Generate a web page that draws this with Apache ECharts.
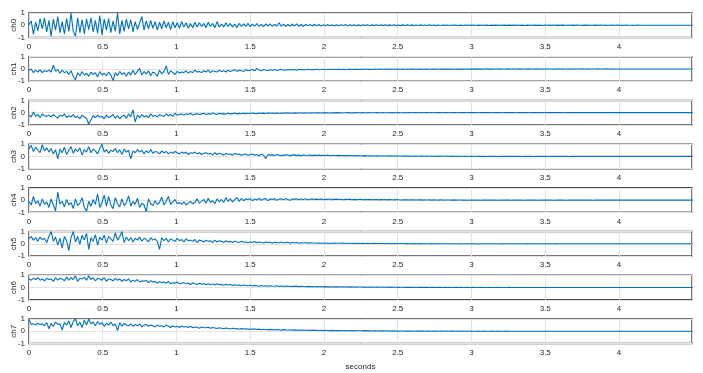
<!DOCTYPE html>
<html><head><meta charset="utf-8">
<script src="https://cdn.jsdelivr.net/npm/echarts@6/dist/echarts.min.js"></script>
<style>html,body{margin:0;padding:0;background:#fff}#c{width:703px;height:373px}</style>
</head><body><div id="c"></div>
<script>
// sample interval of the recordings (seconds) and number of samples
const dt = 0.015;
const nSamples = 301;
const channelNames = ["ch0","ch1","ch2","ch3","ch4","ch5","ch6","ch7"];
const xTicks = [0,0.5,1,1.5,2,2.5,3,3.5,4];
const yTicks = [-1,0,1];
const xLabel = "seconds";

const ch0 = [
.05,.35,-.75,.25,-.45,.55,-.3,.6,-.55,.4,
-.9,.5,-.4,.7,-.6,.3,-.7,.55,-.5,1,
-.5,-.9,.6,-.6,.45,-.7,.5,-.35,.6,-.55,
.4,-.65,.8,-.8,.5,-.4,.55,-.6,.35,-.5,
1,-.7,.4,-.5,.5,-.3,.45,-.55,.3,-.35,
.2,.7,-.4,.35,-.3,.4,-.25,.3,-.4,.25,
-.3,.35,-.2,.25,-.35,.3,-.2,.2,-.25,.3,
-.15,.2,-.25,.15,-.2,.25,-.15,.2,-.1,.15,
-.2,.25,-.1,.15,-.2,.3,-.15,.1,-.15,.2,
-.1,.15,-.15,.1,-.2,.15,-.1,.12,-.1,.15,
-.12,.1,-.08,.14,-.1,.08,-.12,.1,-.06,.12,
-.1,.08,-.06,.2,-.08,.1,-.1,.06,-.08,.1,
-.06,.12,-.08,.06,-.1,.08,-.05,.07,-.06,.08,
-.05,.06,-.07,.05,-.04,.06,-.05,.04,-.06,.05,
-.04,.05,-.03,.06,-.05,.04,-.03,.05,-.04,.03,
-.04,.05,-.03,.04,-.04,.03,-.03,.04,-.02,.03,
-.03,.04,-.03,.03,-.02,.04,-.03,.02,-.03,.03,
-.02,.03,-.02,.03,-.03,.02,-.02,.03,-.02,.02,
-.02,.03,-.02,.02,-.03,.02,-.02,.02,-.01,.02,
-.02,.02,-.01,.02,-.02,.01,-.02,.02,-.01,.02,
-.01,.02,-.02,.01,-.01,.02,-.01,.01,-.02,.01,
-.01,.01,-.01,.02,-.01,.01,-.01,.01,-.01,.01,
-.01,.02,-.01,.01,-.02,.01,-.01,.02,-.01,.01,
-.01,.01,-.02,.01,0,.01,-.01,.02,-.01,.01,
-.01,.01,-.01,0,.01,-.01,.01,-.01,.01,0,
-.01,.01,-.01,.01,0,-.01,.01,-.01,.01,0,
.01,-.01,0,.01,-.01,0,.01,0,-.01,0,
.01,0,0,-.01,0,.01,0,0,0,0,
0,0,0,0,0,0,0,0,0,0,
0,0,0,0,0,0,0,0,0,0,
0];

const ch1 = [
-.1,0,-.3,-.1,-.25,-.05,-.3,-.15,-.2,-.1,
-.25,.3,-.2,-.05,-.35,-.1,-.3,-.2,-.45,-.15,
-.6,-.9,-.3,-.55,-.2,-.5,-.35,-.6,-.25,-.45,
-.3,-.65,-.2,-.5,-.35,-.55,-.25,-.5,-.95,-.3,
-.55,-.2,-.45,-.3,-.6,-.25,-.5,-.1,-.45,-.2,
.05,-.5,-.2,-.4,-.15,-.55,-.25,-.35,-.6,-.1,
-.4,-.2,.25,-.45,-.15,-.3,-.45,-.2,-.35,-.25,
-.3,-.15,-.35,-.2,-.3,-.1,-.25,-.2,-.3,-.15,
-.25,-.1,-.3,-.15,-.2,-.25,-.1,-.2,-.15,-.25,
-.1,-.2,-.15,-.05,-.2,-.1,-.15,-.2,-.05,-.15,
-.1,-.05,-.15,.05,-.1,-.15,-.05,-.1,-.12,-.06,
-.1,-.04,-.12,-.08,-.03,-.1,-.06,-.09,-.04,-.08,
-.05,-.1,-.03,-.07,-.05,-.08,-.02,-.06,-.04,-.07,
-.03,-.06,-.05,-.02,-.06,-.04,-.03,-.05,-.02,-.04,
-.03,-.05,-.02,-.04,-.03,-.01,-.04,-.02,-.03,-.04,
-.02,-.03,-.01,-.03,-.02,-.04,-.01,-.02,-.03,-.01,
-.02,-.01,-.03,0,-.02,-.01,-.03,-.01,-.02,0,
-.02,-.01,-.02,0,-.01,-.02,0,-.01,-.02,-.01,
0,-.02,-.01,0,-.01,-.02,0,-.01,0,-.01,
-.01,0,-.02,0,-.01,0,-.01,-.01,0,-.01,
0,-.01,.01,-.01,0,-.01,0,.01,-.01,0,
-.01,0,.01,-.01,0,0,-.01,.01,0,-.01,
0,.01,-.01,0,0,-.01,.01,0,0,-.01,
.01,0,-.01,0,.01,0,0,-.01,0,.01,
0,-.01,0,0,.01,0,-.01,0,0,0,
.01,0,0,-.01,0,0,0,.01,0,0,
0,.01,0,0,-.01,0,0,0,0,0,
0,0,0,0,0,0,0,0,0,0,
0,0,0,0,0,0,0,0,0,0,
0,0,0,0,0,0,0,0,0,0,
0];

const ch2 = [
-.2,-.35,.05,-.3,-.15,-.4,-.1,-.25,-.3,-.2,
-.35,-.15,-.3,-.45,-.2,-.3,-.1,-.4,-.25,-.35,
-.15,-.4,-.3,-.5,-.2,-.35,-.45,-.95,-.6,-.25,
-.4,-.2,-.35,-.3,-.5,-.2,-.4,-.3,-.15,-.45,
-.25,-.5,-.3,-.2,-.45,-.1,-.35,.25,-.75,-.2,
-.4,-.15,-.35,-.25,-.4,-.1,-.3,-.2,-.35,-.15,
-.25,-.3,-.1,-.25,-.15,-.3,-.05,-.2,-.15,-.1,
-.2,-.1,-.15,-.05,-.2,-.12,-.08,-.15,-.1,-.05,
-.15,-.08,-.12,-.03,-.1,-.15,-.05,-.1,-.08,-.12,
-.05,-.1,-.08,-.02,-.1,-.06,-.09,-.04,-.08,-.05,
-.07,-.02,-.06,-.08,-.03,-.06,-.04,-.07,-.02,-.05,
-.04,-.06,-.02,-.05,-.03,-.06,-.01,-.04,-.03,-.05,
-.02,-.04,-.03,-.01,-.04,-.02,-.03,-.04,-.01,-.03,
-.02,-.01,-.03,0,-.02,-.01,-.03,-.01,-.02,0,
-.02,-.01,-.03,-.01,0,-.02,-.01,-.02,0,-.01,
-.02,0,-.01,-.02,0,-.01,-.01,0,-.02,-.01,
0,-.01,-.01,0,-.02,0,-.01,0,-.01,-.01,
0,-.01,0,-.01,0,.01,-.01,0,-.01,0,
.01,-.01,0,-.01,0,0,.01,-.01,0,0,
-.01,.01,0,0,-.01,0,.01,0,-.01,0,
0,.01,0,-.01,0,0,.01,0,0,-.01,
0,0,.01,0,-.01,0,0,.01,0,0,
-.01,0,0,.01,0,0,-.01,0,0,0,
.01,0,0,-.01,0,0,.01,0,0,0,
0,0,-.01,0,0,.01,0,0,0,0,
0,0,0,0,0,0,0,0,0,0,
0,0,0,0,0,0,0,0,0,0,
0,0,0,0,0,0,0,0,0,0,
0,0,0,0,0,0,0,0,0,0,
0,0,0,0,0,0,0,0,0,0,
0];

const ch3 = [
.6,.9,.4,.75,.5,.3,.95,.45,.7,.35,
.65,.2,.55,-.2,.6,.3,.75,.15,.5,.8,
.25,.6,.4,.7,.1,.55,.35,.8,.3,.6,
.45,.2,.65,1,.35,.55,.25,.5,.4,.65,
.3,.55,.15,.6,.35,.5,-.2,.45,.3,.55,
.35,.5,.2,.45,.3,.55,.25,.4,.35,.2,
.45,.3,.4,.2,.35,.25,.4,.3,.2,.35,
.25,.35,.15,.3,.25,.35,.2,.3,.15,.25,
.3,.2,.25,.1,.3,.15,.25,.2,.1,.25,
.15,.2,.1,.25,.15,.2,.1,.15,.2,.08,
.15,.2,.1,.15,.05,.18,.12,-.2,.15,.1,
.12,.08,.15,.1,.05,.12,.1,.14,.06,.1,
.12,.08,.1,.05,.12,.09,.07,.11,.06,.1,
.08,.1,.06,.09,.07,.1,.05,.08,.07,.06,
.08,.05,.07,.06,.04,.07,.05,.06,.04,.06,
.05,.04,.06,.03,.05,.04,.03,.05,.04,.03,
.04,.03,.04,.02,.04,.03,.02,.03,.03,.02,
.03,.02,.03,.01,.03,.02,.01,.02,.02,.01,
.02,.01,.02,.01,.02,0,.02,.01,.01,.02,
.01,0,.02,.01,0,.01,.01,0,.01,.01,
0,.01,.01,0,.01,0,.01,-.01,.01,0,
.01,0,-.01,.01,0,.01,0,0,.01,0,
0,.01,0,-.01,0,.01,0,0,-.01,.01,
0,0,.01,0,0,-.01,0,.01,0,0,
.01,0,0,0,-.01,0,0,.01,0,0,
0,0,.01,0,0,0,0,0,0,0,
0,0,0,0,0,0,0,0,0,0,
0,0,0,0,0,0,0,0,0,0,
0,0,0,0,0,0,0,0,0,0,
0,0,0,0,0,0,0,0,0,0,
0];

const ch4 = [
-.1,-.4,.3,-.3,-.05,-.5,.1,-.35,-.15,-.6,
.1,-.4,-.9,.65,-.3,-.1,-.55,.05,-.4,-.2,
-.7,.1,-.45,-.25,.2,-.6,-.9,-.1,-.5,.05,
-.35,.5,-.6,-.2,.4,-.5,.3,-.4,-.7,.2,
-.3,-.55,.1,-.45,-.2,.35,-.5,-.1,-.35,.15,
-.6,-.25,-.4,-.95,.1,-.3,-.45,-.05,-.35,-.2,
.25,-.4,-.1,.3,-.35,-.15,.05,-.3,-.2,-.35,
-.15,-.4,-.25,-.1,-.3,-.2,.1,-.25,-.1,.05,
-.25,.15,-.2,-.05,-.3,.1,-.15,.05,-.2,.2,
-.1,.1,-.15,.05,.2,-.1,.15,-.05,.1,.05,
.12,-.05,.1,0,.15,-.02,.08,.12,-.05,.1,
.05,.12,-.02,.08,.1,.02,.12,.05,-.02,.1,
.06,.1,.02,.09,.05,.11,.03,.07,.1,.04,
.08,.05,.1,.03,.07,.06,.09,.04,.06,.08,
.05,.07,.03,.06,.05,.08,.03,.06,.04,.05,
.06,.03,.05,.04,.06,.03,.04,.05,.02,.04,
.03,.05,.02,.04,.03,.02,.04,.03,.01,.03,
.02,.03,.01,.03,.02,.01,.03,.02,0,.02,
.01,.02,0,.02,.01,0,.02,.01,0,.01,
.01,0,.02,0,.01,.01,0,.01,-.01,.01,
0,.01,0,.01,-.01,.01,0,0,.01,0,
.01,0,-.01,.01,0,0,.01,0,-.01,0,
0,.01,0,0,-.01,.01,0,0,.01,0,
-.01,0,.01,0,0,.01,0,-.01,0,0,
.01,0,0,-.01,0,0,.01,0,0,0,
0,.01,0,0,0,-.01,0,0,0,0,
0,0,0,.01,0,0,0,0,0,0,
0,0,0,0,0,0,0,0,0,0,
0,0,0,0,0,0,0,0,0,0,
0,0,0,0,0,0,0,0,0,0,
0];

const ch5 = [
.4,.6,.3,.5,.2,.55,.35,.45,.1,.6,
1,.2,.55,-.1,.45,-.35,.6,.25,-.55,.5,
1,.15,.6,-.05,.7,.3,.85,-.45,.5,.2,
.75,-.1,.55,.3,.7,.05,.6,.4,.2,.9,
.3,.6,1,.1,.55,.25,.5,.15,.45,.3,
.55,.2,.45,.35,.15,.5,.3,.4,.2,-.45,
.5,.25,.45,.15,.4,.3,.2,.45,.25,.35,
.15,.4,.25,.3,.2,.35,.1,.3,.25,.15,
.3,.2,.25,.1,.3,.15,.25,.2,.1,.25,
.15,.2,.1,.22,.15,.1,.2,.12,.15,.08,
.15,.1,.18,.08,.14,.1,.06,.15,.1,.12,
.05,.12,.1,.08,.14,.06,.1,.12,.04,.1,
.08,.1,.05,.09,.07,.1,.04,.08,.06,.07,
.05,.07,.04,.06,.05,.07,.03,.05,.06,.04,
.05,.04,.06,.03,.05,.04,.03,.05,.02,.04,
.03,.04,.02,.04,.03,.02,.04,.02,.03,.02,
.03,.01,.03,.02,.01,.03,.02,.01,.02,.02,
.01,.02,.01,0,.02,.01,.01,.02,0,.01,
.01,0,.02,.01,0,.01,.01,0,.01,0,
.01,0,.01,0,.01,-.01,.01,0,0,.01,
0,.01,0,-.01,.01,0,0,.01,0,0,
.01,0,0,.01,-.01,0,.01,0,0,0,
0,.01,0,0,0,-.01,0,.01,0,0,
0,0,.01,0,0,0,0,0,-.01,0,
0,0,0,.01,0,0,0,0,0,0,
0,0,0,0,0,0,0,0,0,0,
0,0,0,0,0,0,0,0,0,0,
0,0,0,0,0,0,0,0,0,0,
0,0,0,0,0,0,0,0,0,0,
0,0,0,0,0,0,0,0,0,0,
0];

const ch6 = [
.7,.6,.75,.65,.8,.6,.7,.55,.75,.65,
.7,.5,.8,.6,.75,.7,.55,.85,.6,.8,
.65,.95,.5,.75,.7,.85,.6,.95,.65,.8,
.55,.75,.7,.6,.8,.5,.7,.65,.55,.75,
.6,.7,.5,.65,.55,.7,.45,.6,.5,.65,
.45,.55,.5,.6,.4,.55,.45,.5,.35,.5,
.4,.45,.35,.5,.3,.4,.35,.45,.3,.35,
.4,.3,.35,.25,.38,.3,.25,.35,.28,.3,
.22,.3,.25,.28,.2,.3,.22,.25,.18,.26,
.2,.24,.16,.22,.18,.2,.15,.2,.17,.14,
.18,.12,.16,.14,.1,.16,.12,.14,.1,.15,
.12,.1,.14,.08,.12,.1,.09,.12,.08,.1,
.09,.11,.07,.1,.08,.06,.09,.07,.08,.06,
.07,.06,.08,.05,.07,.05,.06,.04,.06,.05,
.05,.04,.06,.04,.05,.03,.05,.04,.03,.04,
.04,.03,.04,.02,.04,.03,.02,.03,.03,.02,
.03,.02,.03,.01,.03,.02,.02,.01,.02,.02,
.01,.02,.01,.02,.01,0,.02,.01,.01,.01,
.01,0,.01,.01,0,.01,.01,0,.01,0,
.01,0,0,.01,0,.01,0,0,.01,0,
0,.01,0,0,.01,0,0,0,.01,0,
0,0,.01,0,0,0,0,.01,0,0,
0,0,0,0,0,0,0,0,0,0,
0,0,0,0,0,0,0,0,0,0,
0,0,0,0,0,0,0,0,0,0,
0,0,0,0,0,0,0,0,0,0,
0,0,0,0,0,0,0,0,0,0,
0,0,0,0,0,0,0,0,0,0,
0,0,0,0,0,0,0,0,0,0,
0,0,0,0,0,0,0,0,0,0,
0];

const ch7 = [
.95,.55,.6,.5,.65,.55,.6,.45,.7,.2,
.65,.4,.75,.55,.6,.1,.7,.5,.85,.3,
.8,1,.45,.75,.3,.9,.5,1,.6,.75,
.45,.8,.55,.7,.4,.65,.5,.75,.45,.6,
.05,.7,.4,.65,.5,.45,.6,.4,.55,.45,
.6,.35,.5,.55,.4,.5,.45,.35,.5,.4,
.45,.35,.5,.4,.3,.45,.35,.4,.3,.42,
.35,.38,.3,.4,.28,.35,.32,.25,.34,.3,
.28,.32,.24,.3,.26,.22,.28,.24,.2,.26,
.22,.18,.24,.2,.22,.16,.21,.18,.2,.15,
.18,.15,.2,.14,.17,.12,.16,.14,.11,.15,
.13,.1,.14,.12,.09,.13,.11,.1,.12,.08,
.11,.09,.1,.07,.1,.08,.09,.06,.09,.07,
.08,.06,.07,.05,.08,.06,.05,.07,.05,.06,
.05,.06,.04,.05,.04,.06,.03,.05,.04,.04,
.04,.03,.05,.03,.04,.02,.04,.03,.02,.03,
.03,.02,.03,.02,.01,.03,.02,.01,.02,.02,
.01,.02,.01,.02,0,.02,.01,.01,.02,0,
.01,.01,0,.02,.01,0,.01,.01,0,.01,
0,.01,.01,0,.01,0,.01,0,.01,0,
.01,0,0,.01,0,0,.01,0,0,.01,
0,0,.01,0,0,0,.01,0,0,0,
0,0,0,0,0,0,0,0,0,0,
0,0,0,0,0,0,0,0,0,0,
0,0,0,0,0,0,0,0,0,0,
0,0,0,0,0,0,0,0,0,0,
0,0,0,0,0,0,0,0,0,0,
0,0,0,0,0,0,0,0,0,0,
0,0,0,0,0,0,0,0,0,0,
0,0,0,0,0,0,0,0,0,0,
0];

const channels = [ch0,ch1,ch2,ch3,ch4,ch5,ch6,ch7];
const t = Array.from({length: nSamples}, (_, i) => +(i * dt).toFixed(4));

const chart = echarts.init(document.getElementById('c'), null, {renderer: 'canvas'});
const FONT = '"Liberation Sans", Arial, Helvetica, sans-serif';
const FS = 8;
const left = 29, right = 11, top0 = 13, pitch = 43.71, h = 24.5;
const grids = [], xAxes = [], yAxes = [], series = [];
channels.forEach((vals, k) => {
  grids.push({left: left, right: right, top: top0 + k * pitch, height: h,
    containLabel: false, outerBoundsMode: 'none',
    show: true, borderColor: '#4a4a4a', borderWidth: 1.5, backgroundColor: '#fff'});
  const last = k === channels.length - 1;
  xAxes.push({type: 'value', gridIndex: k, min: xTicks[0], max: 4.495, interval: 0.5,
    axisLine: {show: false}, axisTick: {show: false},
    axisLabel: {fontSize: FS, color: '#262626', margin: 5, fontFamily: FONT, showMaxLabel: false,
      formatter: v => xTicks.indexOf(v) >= 0 ? String(v) : ''},
    splitLine: {show: true, lineStyle: {color: '#e3e3e3', width: 1}},
    name: last ? xLabel : '', nameLocation: 'middle', nameGap: 19, nameMoveOverlap: false,
    nameTextStyle: {fontSize: FS, color: '#262626', fontFamily: FONT}});
  yAxes.push({type: 'value', gridIndex: k, min: yTicks[0], max: yTicks[2], interval: 1,
    axisLine: {show: false}, axisTick: {show: false},
    axisLabel: {fontSize: FS, color: '#262626', margin: 4, fontFamily: FONT},
    splitLine: {show: true, lineStyle: {color: '#e3e3e3', width: 1}},
    name: channelNames[k], nameLocation: 'middle', nameGap: 11, nameRotate: 90, nameMoveOverlap: false,
    nameTextStyle: {fontSize: FS, color: '#262626', fontFamily: FONT}});
  series.push({type: 'line', xAxisIndex: k, yAxisIndex: k, showSymbol: false,
    data: vals.map((v, i) => [t[i], v]),
    lineStyle: {color: '#0072BD', width: 1.1}, itemStyle: {color: '#0072BD'},
    clip: true, animation: false, silent: true});
});
chart.setOption({animation: false, backgroundColor: '#fff',
  grid: grids, xAxis: xAxes, yAxis: yAxes, series: series});
</script></body></html>
